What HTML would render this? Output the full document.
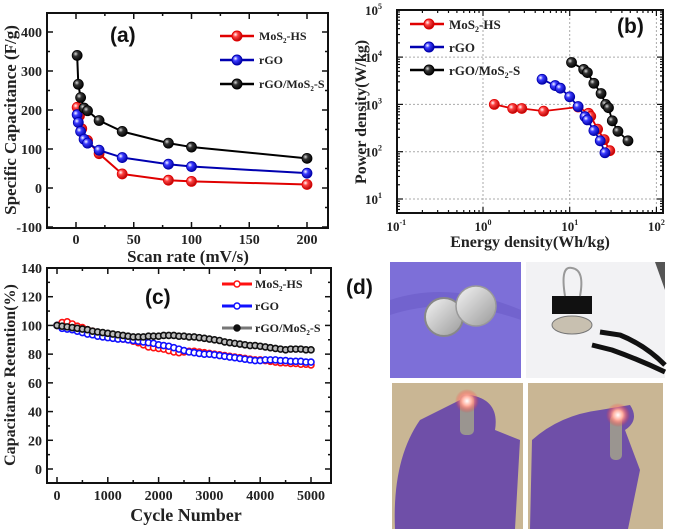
<!DOCTYPE html>
<html><head><meta charset="utf-8"><style>
body{margin:0;background:#fff}
svg{display:block}
.t{font-family:"Liberation Serif",serif;font-weight:bold;fill:#222}
.p{font-family:"Liberation Sans",sans-serif;font-weight:bold;fill:#111}
</style></head><body>
<svg id="fig" width="675" height="529" viewBox="0 0 675 529" xmlns="http://www.w3.org/2000/svg">
<defs>
<radialGradient id="gr" cx="0.35" cy="0.35" r="0.7"><stop offset="0" stop-color="#fff"/><stop offset="0.35" stop-color="#ff4040"/><stop offset="1" stop-color="#b00000"/></radialGradient>
<radialGradient id="gb" cx="0.35" cy="0.35" r="0.7"><stop offset="0" stop-color="#fff"/><stop offset="0.35" stop-color="#3a3aff"/><stop offset="1" stop-color="#0000a0"/></radialGradient>
<radialGradient id="gk" cx="0.35" cy="0.35" r="0.7"><stop offset="0" stop-color="#ddd"/><stop offset="0.35" stop-color="#333"/><stop offset="1" stop-color="#000"/></radialGradient>
<radialGradient id="led" cx="0.5" cy="0.5" r="0.5"><stop offset="0" stop-color="#fff"/><stop offset="0.4" stop-color="#ffb0a0"/><stop offset="1" stop-color="#ff3030" stop-opacity="0"/></radialGradient>
<linearGradient id="coin" x1="0" y1="0" x2="1" y2="1"><stop offset="0" stop-color="#f4f4f4"/><stop offset="1" stop-color="#9a9a9a"/></linearGradient>
</defs>
<g id="pa"></g>
<g id="pb"></g>
<g id="pc"></g>
<g id="pd">
  <rect x="390" y="262" width="131" height="116" fill="#7d6fd8"/>
  <path d="M390 300 Q450 280 521 310 L521 320 Q450 295 390 315Z" fill="#6a5cc8" opacity="0.6"/>
  <circle cx="444" cy="317" r="19" fill="url(#coin)" stroke="#888" stroke-width="2"/>
  <circle cx="476" cy="306" r="20" fill="url(#coin)" stroke="#999" stroke-width="1.5"/>
  <rect x="526" y="262" width="139" height="116" fill="#f2f2f4"/>
  <polygon points="655,262 665,262 665,290" fill="#555"/>
  <ellipse cx="572" cy="325" rx="20" ry="9" fill="#c8c0b0" stroke="#777"/>
  <rect x="552" y="296" width="40" height="18" fill="#111"/>
  <path d="M565 296 Q560 265 572 268 Q585 270 580 296" fill="none" stroke="#999" stroke-width="2"/>
  <path d="M600 332 L620 335 Q645 345 665 365" stroke="#111" stroke-width="5" fill="none"/>
  <path d="M592 345 L612 350 Q640 360 665 372" stroke="#111" stroke-width="5" fill="none"/>
  <rect x="392" y="383" width="131" height="146" fill="#c9b694"/>
  <path d="M395 529 Q392 460 420 420 L470 395 Q500 400 495 430 L520 440 L515 529Z" fill="#6f4fa8"/>
  <rect x="460" y="395" width="14" height="40" rx="5" fill="#9a9590"/>
  <circle cx="467" cy="401" r="12" fill="url(#led)"/>
  <rect x="528" y="383" width="135" height="146" fill="#c9b694"/>
  <path d="M530 529 L532 440 Q560 415 600 410 L630 405 Q640 420 625 430 L640 470 L628 529Z" fill="#6f4fa8"/>
  <rect x="610" y="415" width="12" height="45" rx="5" fill="#9a9590"/>
  <circle cx="618" cy="415" r="12" fill="url(#led)"/>
  <text class="p" x="346" y="294" font-size="21">(d)</text>
</g>
</svg>
<script>
// ===== Panel A data =====
const aRedX=[1,3,5,10,20,40,80,100,200];
const aRedY=[207,185,152,122,88,36,20,17,9];
const aBlueX=[1,2,4,7,10,20,40,80,100,200];
const aBlueY=[188,168,145,125,115,97,78,61,55,38];
const aBlackX=[1,2,4,7,10,20,40,80,100,200];
const aBlackY=[340,266,232,205,198,173,145,115,105,76];
const aXTicks=[0,50,100,150,200];
const aYTicks=[-100,0,100,200,300,400];
// ===== Panel B data =====
const bRedE=[1.35,2.2,2.8,5,12.5,16.5,17.5,21,25,29];
const bRedP=[1000,820,820,720,880,650,560,300,180,105];
const bBlueE=[4.8,6.8,7.8,10,12.5,15,16,19,22.5,25.5];
const bBlueP=[3400,2500,2200,1450,900,550,470,280,170,95];
const bBlackE=[10.5,14.5,16,19,23,26,28,31,36,47];
const bBlackP=[7700,5500,4700,2800,1700,1000,850,450,270,170];
const bXTickExp=[-1,0,1,2];
const bYTickExp=[1,2,3,4,5];
// ===== Panel C data (every 100 cycles) =====
const cCycles=[];for(let i=0;i<=50;i++)cCycles.push(i*100);
const cRed=[100,102,102.5,101,99.5,98.5,97,96,95,94,93,92,91,90.5,90,89,88,86.5,85,84.5,84,83.5,82.5,81.5,81,81.5,82,82,81.5,81,80.5,80,79.5,79,78.5,78,77.5,77,76.5,76,76,75.5,75,74.5,74,74,73.5,73.5,73,73,72.5];
const cBlue=[100,98,97.5,97,96,95,94,93.5,92.5,92,91.5,91,90.5,90.5,90,89.5,89,88.5,88,87.5,86.5,86,85.5,84.5,83.5,82.5,81.5,81,80.5,80,80,79.5,79,78.5,78,77.5,77,76.5,76,75.5,75.5,76,76,76,75.5,75.5,75,75,75,74.5,74.5];
const cBlack=[100,99.5,99,98.5,98,97.5,97,96,95.5,95,94.5,94,93.5,93,92.5,92,92,92,92.5,92.5,92.5,93,93,93,92.5,92.5,92,92,91.5,91,90.5,90,89.5,88.5,88,87.5,87,86.5,86,86,85.5,85,84.5,84,83.5,83,83.5,83.5,83.5,83,83];
const cXTicks=[0,1000,2000,3000,4000,5000];
const cYTicks=[0,20,40,60,80,100,120,140];

const NS="http://www.w3.org/2000/svg";
function mk(parent,tag,attrs,text){const e=document.createElementNS(NS,tag);for(const k in attrs)e.setAttribute(k,attrs[k]);if(text!==undefined)e.textContent=text;parent.appendChild(e);return e;}

// ---------- Panel A ----------
(function(){
  const g=document.getElementById('pa');
  const X0=47,X1=328,Y0=13,Y1=228;
  const xs=v=>76+(v-0)*(307-76)/200;
  const ys=v=>188-v*0.39;
  let f=mk(g,'rect',{x:X0,y:Y0,width:X1-X0,height:Y1-Y0,fill:'none',stroke:'#111','stroke-width':2});
  
  for(let v=-100;v<=400;v+=50){const y=ys(v),L=v%100===0?6:3;mk(g,'line',{x1:X0,x2:X0+L,y1:y,y2:y,stroke:'#111','stroke-width':1.5});mk(g,'line',{x1:X1,x2:X1-L,y1:y,y2:y,stroke:'#111','stroke-width':1.5});}
  for(let v=-25;v<=225;v+=25){const x=xs(v);if(x<X0||x>X1)continue;const L=v%50===0?6:3;mk(g,'line',{x1:x,x2:x,y1:Y1,y2:Y1-L,stroke:'#111','stroke-width':1.5});mk(g,'line',{x1:x,x2:x,y1:Y0,y2:Y0+L,stroke:'#111','stroke-width':1.5});}
  aYTicks.forEach(v=>{const t=mk(g,'text',{class:'t',x:42,y:ys(v)+5,'font-size':14,'text-anchor':'end'},String(v));});
  aXTicks.forEach(v=>{const t=mk(g,'text',{class:'t',x:xs(v),y:244,'font-size':14,'text-anchor':'middle'},String(v));});
  let t=mk(g,'text',{class:'t',x:188,y:262,'font-size':17,'text-anchor':'middle'},'Scan rate (mV/s)');
  t=mk(g,'text',{class:'t',x:0,y:0,'font-size':17,'text-anchor':'middle',transform:'translate(16,120) rotate(-90)'},'Specific Capacitance (F/g)');
  t=mk(g,'text',{class:'p',x:110,y:42,'font-size':21},'(a)');
  const series=[[aRedX,aRedY,'#e00000','url(#gr)','red'],[aBlueX,aBlueY,'#0000b0','url(#gb)','blue'],[aBlackX,aBlackY,'#000','url(#gk)','black']];
  series.forEach(s=>{
    const pl=mk(g,'polyline',{points:s[0].map((x,i)=>xs(x)+','+ys(s[1][i])).join(' '),fill:'none',stroke:s[2],'stroke-width':2});
    
    s[0].forEach((x,i)=>{const c=mk(g,'circle',{cx:xs(x),cy:ys(s[1][i]),r:5,fill:s[3],stroke:s[2],'stroke-width':0.8});});
  });
  const leg=[['#e00000','url(#gr)','MoS','-HS'],['#0000b0','url(#gb)','rGO',''],['#000','url(#gk)','rGO/MoS','-S']];
  leg.forEach((l,i)=>{const y=36+i*24;const lg=mk(g,'g',{});
    mk(lg,'line',{x1:220,x2:254,y1:y,y2:y,stroke:l[0],'stroke-width':2.5});mk(lg,'circle',{cx:237,cy:y,r:5,fill:l[1],stroke:l[0]});
    const tx=mk(lg,'text',{class:'t',x:259,y:y+4,'font-size':12});tx.appendChild(document.createTextNode(l[2]));
    if(l[3]){mk(tx,'tspan',{'font-size':7,dy:3},'2');mk(tx,'tspan',{dy:-3},l[3]);}
  });
})();

// ---------- Panel B ----------
(function(){
  const g=document.getElementById('pb');
  const X0=397,X1=663,Y0=10,Y1=213;
  const xs=v=>483+Math.log10(v)*86.7;
  const ys=v=>199-(Math.log10(v)-1)*47.3;
  bXTickExp.forEach(e=>{const x=483+e*86.7;if(x>X0+1)mk(g,'line',{x1:x,x2:x,y1:Y0,y2:Y1,stroke:'#aaa','stroke-dasharray':'2,2'});});
  bYTickExp.forEach(e=>{const y=ys(Math.pow(10,e));if(y>Y0+1)mk(g,'line',{x1:X0,x2:X1,y1:y,y2:y,stroke:'#aaa','stroke-dasharray':'2,2'});});
  let f=mk(g,'rect',{x:X0,y:Y0,width:X1-X0,height:Y1-Y0,fill:'none',stroke:'#111','stroke-width':2});
  
  for(let e=-1;e<3;e++)for(let m=1;m<10;m++){const x=483+(e+Math.log10(m))*86.7;if(x<X0||x>X1)continue;const L=m===1?6:3;mk(g,'line',{x1:x,x2:x,y1:Y1,y2:Y1-L,stroke:'#111','stroke-width':1.2});mk(g,'line',{x1:x,x2:x,y1:Y0,y2:Y0+L,stroke:'#111','stroke-width':1.2});}
  for(let e=0;e<5;e++)for(let m=1;m<10;m++){const y=ys(Math.pow(10,e)*m);if(y<Y0||y>Y1)continue;const L=m===1?6:3;mk(g,'line',{x1:X0,x2:X0+L,y1:y,y2:y,stroke:'#111','stroke-width':1.2});mk(g,'line',{x1:X1,x2:X1-L,y1:y,y2:y,stroke:'#111','stroke-width':1.2});}
  bXTickExp.forEach(e=>{const t=mk(g,'text',{class:'t',x:483+e*86.7,y:231,'font-size':13,'text-anchor':'middle'},'10');mk(t,'tspan',{'font-size':8,dy:-6},String(e));});
  bYTickExp.forEach(e=>{const t=mk(g,'text',{class:'t',x:382,y:ys(Math.pow(10,e))+5,'font-size':13,'text-anchor':'end'},'10');mk(t,'tspan',{'font-size':8,dy:-6},String(e));});
  let t=mk(g,'text',{class:'t',x:530,y:247,'font-size':16,'text-anchor':'middle'},'Energy density(Wh/kg)');
  t=mk(g,'text',{class:'t',x:0,y:0,'font-size':16,'text-anchor':'middle',transform:'translate(366,112) rotate(-90)'},'Power density(W/kg)');
  t=mk(g,'text',{class:'p',x:617,y:33,'font-size':21},'(b)');
  const series=[[bRedE,bRedP,'#e00000','url(#gr)','red'],[bBlueE,bBlueP,'#0000b0','url(#gb)','blue'],[bBlackE,bBlackP,'#000','url(#gk)','black']];
  series.forEach(s=>{
    const pl=mk(g,'polyline',{points:s[0].map((x,i)=>xs(x)+','+ys(s[1][i])).join(' '),fill:'none',stroke:s[2],'stroke-width':1.8});
    
    s[0].forEach((x,i)=>{const c=mk(g,'circle',{cx:xs(x),cy:ys(s[1][i]),r:5,fill:s[3],stroke:s[2],'stroke-width':0.8});});
  });
  const leg=[['#e00000','url(#gr)','MoS','-HS'],['#0000b0','url(#gb)','rGO',''],['#000','url(#gk)','rGO/MoS','-S']];
  leg.forEach((l,i)=>{const y=24+i*23;const lg=mk(g,'g',{});
    mk(lg,'line',{x1:410,x2:444,y1:y,y2:y,stroke:l[0],'stroke-width':2.5});mk(lg,'circle',{cx:429,cy:y,r:5,fill:l[1],stroke:l[0]});
    const tx=mk(lg,'text',{class:'t',x:449,y:y+5,'font-size':13});tx.appendChild(document.createTextNode(l[2]));
    if(l[3]){mk(tx,'tspan',{'font-size':8,dy:3},'2');mk(tx,'tspan',{dy:-3},l[3]);}
  });
})();

// ---------- Panel C ----------
(function(){
  const g=document.getElementById('pc');
  const X0=47,X1=331,Y0=268,Y1=483;
  const xs=v=>57+v*(311-57)/5000;
  const ys=v=>469-v*(469-268)/140;
  let f=mk(g,'rect',{x:X0,y:Y0,width:X1-X0,height:Y1-Y0,fill:'none',stroke:'#111','stroke-width':2});
  
  for(let v=-10;v<=140;v+=10){const y=ys(v);if(y>Y1)continue;const L=v%20===0?6:3;mk(g,'line',{x1:X0,x2:X0+L,y1:y,y2:y,stroke:'#111','stroke-width':1.5});mk(g,'line',{x1:X1,x2:X1-L,y1:y,y2:y,stroke:'#111','stroke-width':1.5});}
  for(let v=0;v<=5000;v+=500){const x=xs(v);const L=v%1000===0?6:3;mk(g,'line',{x1:x,x2:x,y1:Y1,y2:Y1-L,stroke:'#111','stroke-width':1.5});mk(g,'line',{x1:x,x2:x,y1:Y0,y2:Y0+L,stroke:'#111','stroke-width':1.5});}
  cYTicks.forEach(v=>{const t=mk(g,'text',{class:'t',x:42,y:ys(v)+5,'font-size':14,'text-anchor':'end'},String(v));});
  cXTicks.forEach(v=>{const t=mk(g,'text',{class:'t',x:xs(v),y:500,'font-size':14,'text-anchor':'middle'},String(v));});
  let t=mk(g,'text',{class:'t',x:186,y:521,'font-size':18,'text-anchor':'middle'},'Cycle Number');
  t=mk(g,'text',{class:'t',x:0,y:0,'font-size':16,'text-anchor':'middle',transform:'translate(15,375) rotate(-90)'},'Capacitance Retention(%)');
  t=mk(g,'text',{class:'p',x:145,y:304,'font-size':21},'(c)');
  const series=[[cRed,'#ff1010','red'],[cBlue,'#1010ff','blue'],[cBlack,'#111','black']];
  series.forEach(s=>{
    const pl=mk(g,'polyline',{points:cCycles.map((x,i)=>xs(x)+','+ys(s[0][i])).join(' '),fill:'none',stroke:s[1],'stroke-width':1.5});
    
    cCycles.forEach((x,i)=>{const c=mk(g,'circle',{cx:xs(x),cy:ys(s[0][i]),r:3,fill:s[2]==='black'?'#bbb':'#fff',stroke:s[1],'stroke-width':1.6});});
  });
  const leg=[['#ff1010','MoS','-HS'],['#1010ff','rGO',''],['#111','rGO/MoS','-S']];
  leg.forEach((l,i)=>{const y=284+i*22;const lg=mk(g,'g',{});
    mk(lg,'line',{x1:222,x2:252,y1:y,y2:y,stroke:i===2?'#777':l[0],'stroke-width':3});mk(lg,'circle',{cx:237,cy:y,r:3,fill:i===2?'#111':'#fff',stroke:l[0],'stroke-width':1.5});
    const tx=mk(lg,'text',{class:'t',x:255,y:y+4,'font-size':12});tx.appendChild(document.createTextNode(l[1]));
    if(l[2]){mk(tx,'tspan',{'font-size':7,dy:3},'2');mk(tx,'tspan',{dy:-3},l[2]);}
  });
})();
</script>
</body></html>
